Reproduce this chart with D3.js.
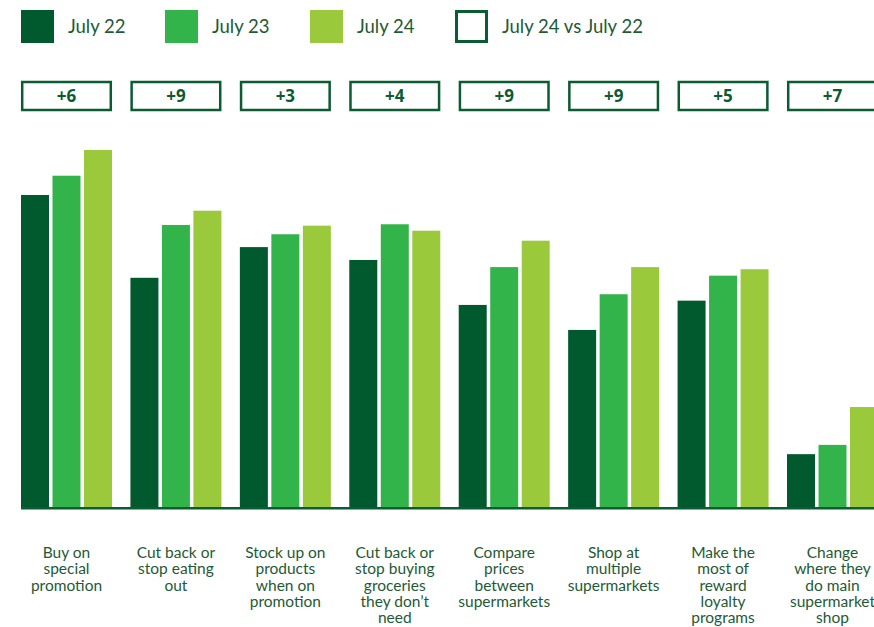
<!DOCTYPE html>
<html>
<head>
<meta charset="utf-8">
<script src="https://cdn.jsdelivr.net/npm/d3@7"></script>
<style>
  html, body { margin: 0; padding: 0; background: #fff; overflow: hidden; }
  svg { display: block; }
</style>
</head>
<body>
<script>
// ---- Data ----
const categories = [
  "Buy on special promotion",
  "Cut back or stop eating out",
  "Stock up on products when on promotion",
  "Cut back or stop buying groceries they don’t need",
  "Compare prices between supermarkets",
  "Shop at multiple supermarkets",
  "Make the most of reward loyalty programs",
  "Change where they do main supermarket shop"
];
const categoryLines = [
  ["Buy on", "special", "promotion"],
  ["Cut back or", "stop eating", "out"],
  ["Stock up on", "products", "when on", "promotion"],
  ["Cut back or", "stop buying", "groceries", "they don’t", "need"],
  ["Compare", "prices", "between", "supermarkets"],
  ["Shop at", "multiple", "supermarkets"],
  ["Make the", "most of", "reward", "loyalty", "programs"],
  ["Change", "where they", "do main", "supermarket", "shop"]
];
const seriesNames = ["July 22", "July 23", "July 24"];
const july22 = [43.7, 32.1, 36.4, 34.6, 28.3, 24.8, 28.9, 7.4];
const july23 = [46.4, 39.5, 38.2, 39.6, 33.6, 29.8, 32.4, 8.7];
const july24 = [50.0, 41.5, 39.4, 38.7, 37.3, 33.6, 33.3, 14.0];
const diffLabels = ["+6", "+9", "+3", "+4", "+9", "+9", "+5", "+7"];
const legendLabels = ["July 22", "July 23", "July 24", "July 24 vs July 22"];

const colors = ["#015a2e", "#33b44a", "#9aca3c"];
const darkGreen = "#0b5b33";
const textColor = "#1d5a35";

const W = 874, H = 627;
const svg = d3.select("body").append("svg").attr("width", W).attr("height", H);

const seriesValues = [july22, july23, july24];
const data = categories.map((c, i) => ({
  cat: c, vals: seriesNames.map((s, j) => ({ s, v: seriesValues[j][i] }))
}));

const x0 = d3.scaleBand().domain(categories).range([21, 878]).paddingInner(0.1685).paddingOuter(0);
const x1 = d3.scaleBand().domain(seriesNames).range([0, x0.bandwidth()]).paddingInner(0.111).paddingOuter(0);
const y = d3.scaleLinear().domain([0, 50]).range([507, 150]);
const color = d3.scaleOrdinal().domain(seriesNames).range(colors);

// Bars
const groups = svg.append("g").selectAll("g").data(data).join("g")
  .attr("transform", d => `translate(${x0(d.cat)},0)`);
groups.selectAll("rect").data(d => d.vals).join("rect")
  .attr("x", d => x1(d.s))
  .attr("y", d => y(d.v))
  .attr("width", x1.bandwidth())
  .attr("height", d => y(0) - y(d.v))
  .attr("fill", d => color(d.s));

// Axis line
svg.append("line")
  .attr("x1", 21).attr("x2", W)
  .attr("y1", y(0) + 1.2).attr("y2", y(0) + 1.2)
  .attr("stroke", darkGreen).attr("stroke-width", 2.5);

// Difference boxes
const boxes = svg.append("g").selectAll("g").data(categories).join("g")
  .attr("transform", d => `translate(${x0(d)},0)`);
boxes.append("rect")
  .attr("x", 1.2).attr("y", 82)
  .attr("width", x0.bandwidth() - 2.4).attr("height", 28)
  .attr("fill", "#fff").attr("stroke", darkGreen).attr("stroke-width", 2.5);
boxes.append("text")
  .attr("x", x0.bandwidth() / 2).attr("y", 102)
  .attr("text-anchor", "middle")
  .attr("font-family", "Open Sans, sans-serif")
  .attr("font-weight", 700).attr("font-size", 17)
  .attr("fill", darkGreen)
  .text((d, i) => diffLabels[i]);

// Category labels
const labels = svg.append("g").selectAll("text").data(categories).join("text")
  .attr("x", d => x0(d) + x0.bandwidth() / 2)
  .attr("y", 558)
  .attr("text-anchor", "middle")
  .attr("font-family", "Lato, sans-serif")
  .attr("font-size", 15.5)
  .attr("fill", textColor);
labels.each(function(d, i) {
  d3.select(this).selectAll("tspan").data(categoryLines[i]).join("tspan")
    .attr("x", x0(d) + x0.bandwidth() / 2)
    .attr("dy", (t, k) => k === 0 ? 0 : 16.3)
    .text(t => t);
});

// Legend
const legendX = [21, 165, 310, 455];
const leg = svg.append("g").selectAll("g").data(legendLabels).join("g")
  .attr("transform", (d, i) => `translate(${legendX[i]},10)`);
leg.append("rect")
  .attr("x", (d, i) => i === 3 ? 1.5 : 0)
  .attr("y", (d, i) => i === 3 ? 1.5 : 0)
  .attr("width", (d, i) => i === 3 ? 30 : 33)
  .attr("height", (d, i) => i === 3 ? 30 : 33)
  .attr("fill", (d, i) => i === 3 ? "#fff" : colors[i])
  .attr("stroke", (d, i) => i === 3 ? darkGreen : "none")
  .attr("stroke-width", 3);
leg.append("text")
  .attr("x", 47).attr("y", 23)
  .attr("font-family", "Lato, sans-serif")
  .attr("font-size", 18.5)
  .attr("fill", textColor)
  .text(d => d);
</script>
</body>
</html>
